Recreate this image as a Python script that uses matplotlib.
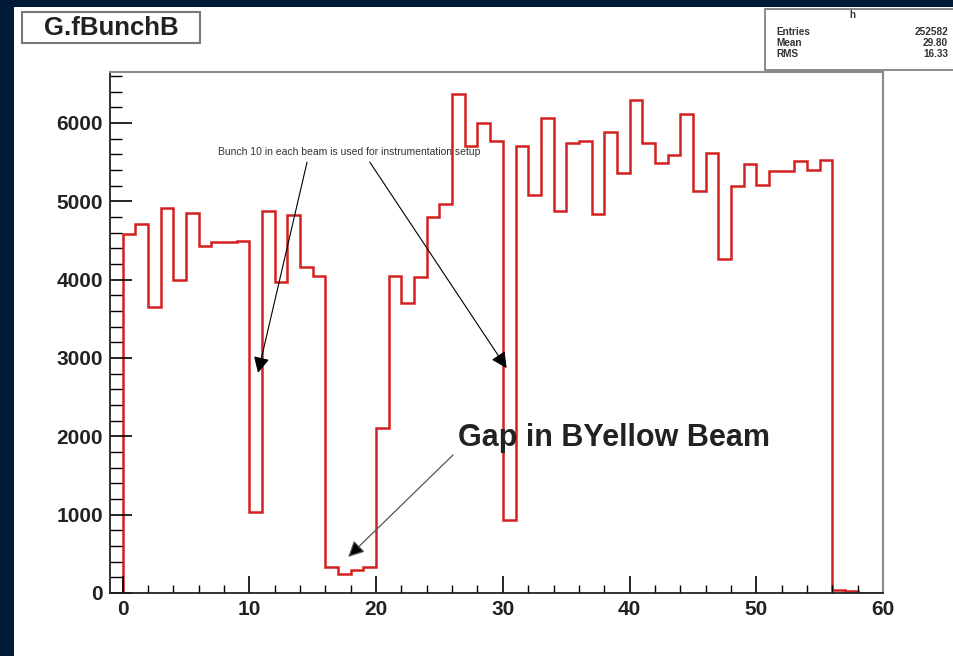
import numpy as np
import matplotlib.pyplot as plt
from matplotlib.patches import Rectangle
from matplotlib.ticker import MultipleLocator

plt.rcParams['font.family'] = ['Liberation Sans', 'DejaVu Sans']

# bunch number bins (-1 .. 60), first bin is empty
edges = np.arange(-1, 61)
counts = [0,
          4580, 4710, 3650, 4915, 3995, 4850, 4430, 4480, 4480, 4490,
          1035, 4875, 3970, 4825, 4160, 4050, 330, 245, 290, 330,
          2110, 4050, 3700, 4030, 4800, 4960, 6370, 5700, 6000, 5770,
          930, 5700, 5080, 6060, 4880, 5740, 5770, 4840, 5880, 5360,
          6290, 5740, 5490, 5590, 6120, 5130, 5620, 4260, 5200, 5480,
          5210, 5390, 5390, 5520, 5400, 5530, 40, 25, 0, 0]

stats_names = ['Entries', 'Mean', 'RMS']
stats_vals = ['252582', '29.80', '16.33']

navy = '#021b38'
fig = plt.figure(figsize=(9.54, 6.56), dpi=100, facecolor=navy)
W, H = 954, 656

# white canvas inside the navy border
fig.patches.append(Rectangle((14 / W, 0), 1, 1 - 7 / H, transform=fig.transFigure,
                             facecolor='white', edgecolor='none', zorder=-10))

ax = fig.add_axes([110 / W, 1 - 593 / H, (883 - 110) / W, (593 - 72) / H])
ax.set_zorder(1)
ax.stairs(counts, edges, color='#d42020', lw=1.8)

ax.set_xlim(-1, 60)
ax.set_ylim(0, 6650)
ax.xaxis.set_major_locator(MultipleLocator(10))
ax.xaxis.set_minor_locator(MultipleLocator(2))
ax.yaxis.set_major_locator(MultipleLocator(1000))
ax.yaxis.set_minor_locator(MultipleLocator(200))
ax.tick_params(axis='x', which='major', direction='in', length=12, width=1.2, pad=5)
ax.tick_params(axis='x', which='minor', direction='in', length=6, width=1)
ax.tick_params(axis='y', which='major', direction='in', length=16, width=1.2, pad=5)
ax.tick_params(axis='y', which='minor', direction='in', length=8.5, width=1)
for lab in ax.get_xticklabels() + ax.get_yticklabels():
    lab.set_fontweight('bold')
    lab.set_fontsize(15)
    lab.set_color('#222222')
for s in ['left', 'bottom']:
    ax.spines[s].set_color('#222222')
    ax.spines[s].set_linewidth(1.3)
for s in ['top', 'right']:
    ax.spines[s].set_color('#8a8a8a')
    ax.spines[s].set_linewidth(1.5)

# annotations
ax.text(17.9, 5630, 'Bunch 10 in each beam is used for instrumentation setup',
        fontsize=7.5, ha='center', va='center', color='#333333')
head = dict(arrowstyle='-|>', color='black', lw=0.8, mutation_scale=24,
            shrinkA=0, shrinkB=0)
ax.annotate('', xy=(10.68, 2810), xytext=(14.55, 5500), arrowprops=head)
ax.annotate('', xy=(30.3, 2870), xytext=(19.5, 5500), arrowprops=head)

ax.text(26.5, 1980, 'Gap in BYellow Beam', fontsize=22, fontweight='bold',
        ha='left', va='center', color='#222222')
ax.annotate('', xy=(17.8, 460), xytext=(26.07, 1762),
            arrowprops=dict(arrowstyle='-|>', lw=0.9,
                            mutation_scale=24, shrinkA=0, shrinkB=0,
                            fc='black', ec='#555555'))

# title box
fig.patches.append(Rectangle((22 / W, 1 - 43 / H), 178 / W, 31 / H,
                             transform=fig.transFigure, facecolor='white',
                             edgecolor='#777777', lw=1.5, zorder=2))
fig.text(111 / W, 1 - 28 / H, 'G.fBunchB', fontsize=18.5, fontweight='bold',
         ha='center', va='center', color='#222222', zorder=3)

# stats box
fig.patches.append(Rectangle((765 / W, 1 - 70 / H), 200 / W, 61 / H,
                             transform=fig.transFigure, facecolor='white',
                             edgecolor='#777777', lw=1.2, zorder=2))
fig.lines.append(plt.Line2D([765 / W, 1], [1 - 22 / H, 1 - 22 / H],
                            transform=fig.transFigure, color='#777777', lw=1))
fig.text(852 / W, 1 - 15 / H, 'h', fontsize=7, fontweight='bold',
         ha='center', va='center', color='#333333')
for i, (n, v) in enumerate(zip(stats_names, stats_vals)):
    y = 1 - (32 + 11 * i) / H
    fig.text(776 / W, y, n, fontsize=7.2, fontweight='bold', ha='left',
             va='center', color='#333333')
    fig.text(948 / W, y, v, fontsize=7.2, fontweight='bold', ha='right',
             va='center', color='#333333')

fig.savefig('out.png', dpi=100, facecolor=navy)
